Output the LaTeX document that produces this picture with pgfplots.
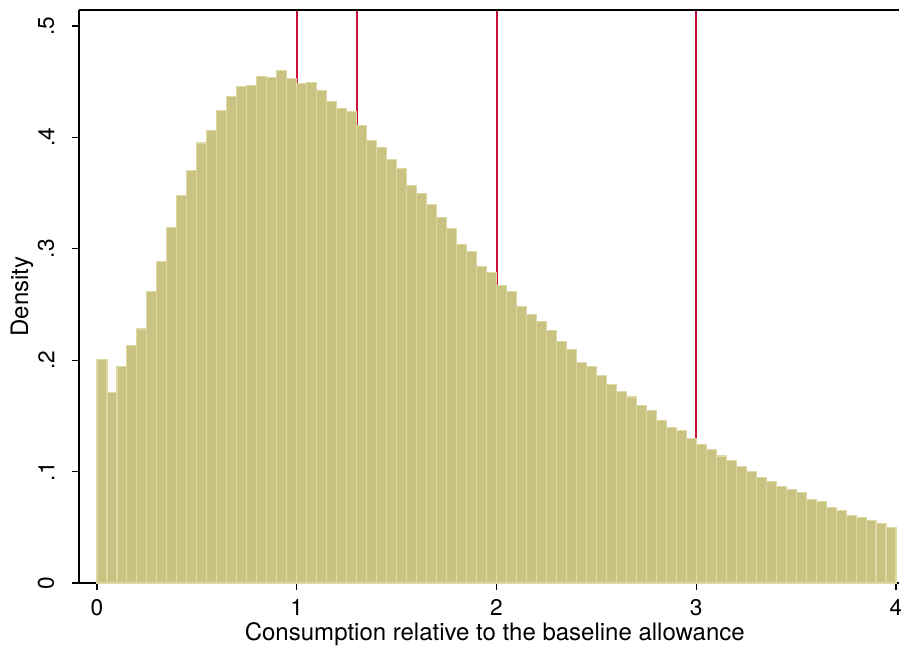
\documentclass[border=0pt]{standalone}
\usepackage{pgfplots}
\usepackage{pgfplotstable}
\pgfplotsset{compat=1.18}
\usepackage{fontspec}
\setmainfont{TeX Gyre Heros}

\definecolor{barfill}{RGB}{201,194,128}
\definecolor{baredge}{RGB}{222,216,165}
\definecolor{cranberry}{RGB}{200,16,56}

% histogram: left edge of bin, density (last row closes the interval)
\pgfplotstableread{
x    d
0.00 0.201
0.05 0.171
0.10 0.194
0.15 0.213
0.20 0.228
0.25 0.262
0.30 0.289
0.35 0.319
0.40 0.348
0.45 0.370
0.50 0.395
0.55 0.406
0.60 0.424
0.65 0.437
0.70 0.446
0.75 0.447
0.80 0.455
0.85 0.454
0.90 0.460
0.95 0.453
1.00 0.448
1.05 0.449
1.10 0.442
1.15 0.432
1.20 0.426
1.25 0.423
1.30 0.411
1.35 0.397
1.40 0.391
1.45 0.380
1.50 0.372
1.55 0.357
1.60 0.350
1.65 0.340
1.70 0.328
1.75 0.318
1.80 0.304
1.85 0.298
1.90 0.284
1.95 0.279
2.00 0.267
2.05 0.262
2.10 0.248
2.15 0.241
2.20 0.235
2.25 0.227
2.30 0.217
2.35 0.210
2.40 0.198
2.45 0.194
2.50 0.186
2.55 0.178
2.60 0.172
2.65 0.167
2.70 0.159
2.75 0.155
2.80 0.146
2.85 0.140
2.90 0.137
2.95 0.130
3.00 0.124
3.05 0.120
3.10 0.114
3.15 0.110
3.20 0.105
3.25 0.100
3.30 0.095
3.35 0.091
3.40 0.087
3.45 0.084
3.50 0.081
3.55 0.075
3.60 0.073
3.65 0.068
3.70 0.065
3.75 0.061
3.80 0.059
3.85 0.056
3.90 0.053
3.95 0.050
4.00 0.050
}\histdata

\begin{document}
\begin{tikzpicture}
\useasboundingbox (-59.25pt,-51pt) rectangle (616.5pt,437.25pt);
\begin{axis}[
    at={(0,0)}, anchor=south west,
    width=615pt, height=429.75pt,
    scale only axis,
    xmin=-0.0901, xmax=4.015,
    ymin=0, ymax=0.5144,
    axis lines*=left,
    axis line style={line width=0.9pt},
    every tick/.style={black, line width=0.9pt},
    tick align=outside,
    major tick length=5pt,
    xtick={0,1,2,3,4},
    xticklabels={0,1,2,3,4},
    ytick={0,0.1,0.2,0.3,0.4,0.5},
    yticklabels={0,.1,.2,.3,.4,.5},
    ticklabel style={font=\fontsize{17}{20}\selectfont},
    yticklabel style={rotate=90, anchor=south},
    yticklabel shift=10pt,
    xticklabel shift=3.5pt,
    label style={font=\fontsize{18}{21}\selectfont},
    xlabel={Consumption relative to the baseline allowance},
    ylabel={Density},
    xlabel style={at={(axis description cs:0.507,0)}, anchor=center, yshift=-38.5pt},
    ylabel style={at={(axis description cs:-0.0695,0.5)}, anchor=center},
    clip=true,
]
    % reference lines, drawn under the bars
    \addplot[cranberry, line width=1.5pt] coordinates {(1,0) (1,0.52)};
    \addplot[cranberry, line width=1.5pt] coordinates {(1.3,0) (1.3,0.52)};
    \addplot[cranberry, line width=1.5pt] coordinates {(2,0) (2,0.52)};
    \addplot[cranberry, line width=1.5pt] coordinates {(3,0) (3,0.52)};

    \addplot[ybar interval, fill=barfill, draw=baredge, line width=0.8pt]
        table[x=x, y=d] {\histdata};

    \draw[line width=0.9pt] (rel axis cs:0,1) -- (rel axis cs:1,1);
\end{axis}
\end{tikzpicture}
\end{document}
